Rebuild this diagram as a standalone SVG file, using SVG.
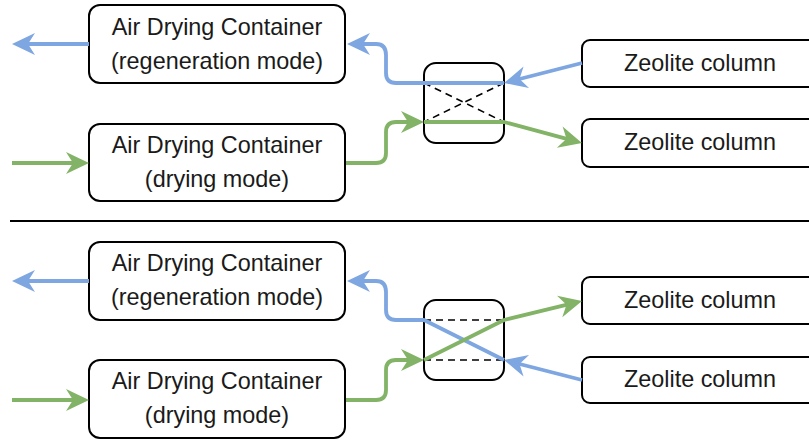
<svg xmlns="http://www.w3.org/2000/svg" width="809" height="441" viewBox="0 0 809 441">
<style>
.box{fill:#fff;stroke:#000;stroke-width:2}
.sw{fill:#fff;stroke:#000;stroke-width:2}
.t{font-family:"Liberation Sans",Arial,sans-serif;font-size:23.4px;fill:#1a1a1a;text-anchor:middle}
.dash{stroke:#000;stroke-width:1.6;stroke-dasharray:7 5;fill:none}
.b{fill:none;stroke:#7EA6E0;stroke-width:3.8;stroke-linejoin:round}
.g{fill:none;stroke:#82B366;stroke-width:3.8;stroke-linejoin:round}
</style>
<defs>
<marker id="ab" markerUnits="userSpaceOnUse" viewBox="-14 -12 26 24" markerWidth="26" markerHeight="24" refX="0" refY="0" orient="auto" overflow="visible"><path d="M10,0 L-13,-11 L-6,0 L-13,11 Z" fill="#7EA6E0"/></marker>
<marker id="ag" markerUnits="userSpaceOnUse" viewBox="-14 -12 26 24" markerWidth="26" markerHeight="24" refX="0" refY="0" orient="auto" overflow="visible"><path d="M10,0 L-13,-11 L-6,0 L-13,11 Z" fill="#82B366"/></marker>
</defs>
<rect width="809" height="441" fill="#fff"/>

<g id="top-regen"><rect class="box" x="89" y="5" width="256" height="78" rx="11"/><text class="t" x="217" y="35">Air Drying Container</text><text class="t" x="217" y="69">(regeneration mode)</text></g>
<g id="top-drying"><rect class="box" x="89" y="124" width="256" height="77" rx="11"/><text class="t" x="217" y="153">Air Drying Container</text><text class="t" x="217" y="187">(drying mode)</text></g>
<g id="top-zeo1"><rect class="box" x="582" y="40" width="236" height="47" rx="8"/><text class="t" x="700" y="71">Zeolite column</text></g>
<g id="top-zeo2"><rect class="box" x="582" y="119" width="236" height="48" rx="8"/><text class="t" x="700" y="150">Zeolite column</text></g>
<g id="top-switch"><rect class="sw" x="424" y="63" width="80" height="80" rx="12"/><line class="dash" x1="424" y1="83" x2="504" y2="122"/><line class="dash" x1="504" y1="83" x2="424" y2="122"/></g>

<line id="separator" x1="10" y1="221" x2="809" y2="221" stroke="#000" stroke-width="2"/>

<g id="bot-regen"><rect class="box" x="89" y="242" width="256" height="78" rx="11"/><text class="t" x="217" y="271">Air Drying Container</text><text class="t" x="217" y="305">(regeneration mode)</text></g>
<g id="bot-drying"><rect class="box" x="89" y="360" width="256" height="78" rx="11"/><text class="t" x="217" y="389">Air Drying Container</text><text class="t" x="217" y="423">(drying mode)</text></g>
<g id="bot-zeo1"><rect class="box" x="582" y="277" width="236" height="47" rx="8"/><text class="t" x="700" y="308">Zeolite column</text></g>
<g id="bot-zeo2"><rect class="box" x="582" y="357" width="236" height="46" rx="8"/><text class="t" x="700" y="387">Zeolite column</text></g>
<g id="bot-switch"><rect class="sw" x="424" y="300" width="80" height="80" rx="12"/><line class="dash" x1="424" y1="320" x2="504" y2="320"/><line class="dash" x1="424" y1="360" x2="504" y2="360"/></g>

<g id="connectors">
<path class="b" d="M89,44 L22,44" marker-end="url(#ab)"/>
<path class="g" d="M12,163 L79,163" marker-end="url(#ag)"/>
<path class="b" d="M582,63 L513.7,80.5" marker-end="url(#ab)"/>
<path class="b" d="M504,83 L396,83 Q386,83 386,73 L386,55 Q386,44 376,44 L357,44" marker-end="url(#ab)"/>
<path class="g" d="M346,163 L376,163 Q386,163 386,153 L386,132 Q386,122 396,122 L414,122" marker-end="url(#ag)"/>
<path class="g" d="M424,122 L504,122 L572.3,140.4" marker-end="url(#ag)"/>

<path class="b" d="M89,281 L22,281" marker-end="url(#ab)"/>
<path class="g" d="M12,400 L79,400" marker-end="url(#ag)"/>
<path class="b" d="M582,380 L513.7,362.5" marker-end="url(#ab)"/>
<path class="b" d="M504,360 L424,320 L396,320 Q386,320 386,310 L386,292 Q386,281 376,281 L357,281" marker-end="url(#ab)"/>
<path class="g" d="M346,400 L376,400 Q386,400 386,390 L386,370 Q386,360 396,360 L414,360" marker-end="url(#ag)"/>
<path class="g" d="M424,360 L504,320 L572.3,303.4" marker-end="url(#ag)"/>
</g>
</svg>
